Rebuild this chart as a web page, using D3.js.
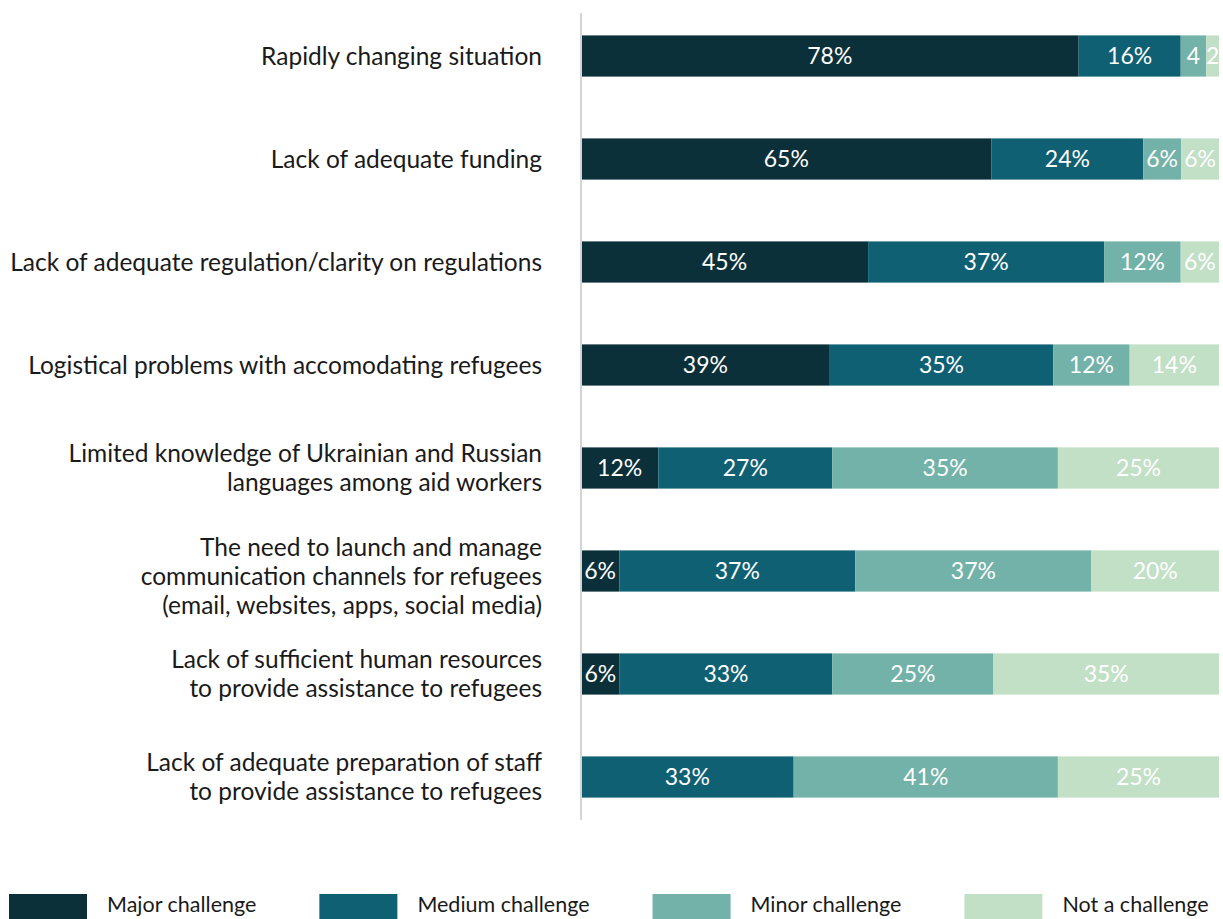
<!DOCTYPE html>
<html>
<head>
    <meta charset="utf-8">
    <script src="https://cdn.jsdelivr.net/npm/d3@7"></script>
    <style>
        * { margin: 0; padding: 0; }
        body { background: #fff; }
        svg { display: block; font-family: Lato, "Open Sans", sans-serif; }
    </style>
</head>
<body>
    <svg id="chart" width="1223" height="919"></svg>
    <script>
        // data
        var categories = [
            "Rapidly changing situation",
            "Lack of adequate funding",
            "Lack of adequate regulation/clarity on regulations",
            "Logistical problems with accomodating refugees",
            "Limited knowledge of Ukrainian and Russian|languages among aid workers",
            "The need to launch and manage|communication channels for refugees|(email, websites, apps, social media)",
            "Lack of sufficient human resources|to provide assistance to refugees",
            "Lack of adequate preparation of staff|to provide assistance to refugees"
        ];
        var seriesNames = ["Major challenge", "Medium challenge", "Minor challenge", "Not a challenge"];
        var major  = [78, 65, 45, 39, 12, 6, 6, 0];
        var medium = [16, 24, 37, 35, 27, 37, 33, 33];
        var minor  = [4, 6, 12, 12, 35, 37, 25, 41];
        var notA   = [2, 6, 6, 14, 25, 20, 35, 25];
        var colors = ["#0b303a", "#0f6073", "#72b2a8", "#c1e0c6"];

        var rows = categories.map(function (c, i) {
            return { cat: c, "Major challenge": major[i], "Medium challenge": medium[i],
                     "Minor challenge": minor[i], "Not a challenge": notA[i] };
        });

        var svg = d3.select("#chart");
        var x0 = 581, x1 = 1219;

        var x = d3.scaleLinear().domain([0, 1]).range([x0, x1]);
        var y = d3.scaleBand()
            .domain(categories)
            .range([4.5, 828.5])
            .paddingInner(0.6)
            .paddingOuter(0.3);
        var color = d3.scaleOrdinal().domain(seriesNames).range(colors);

        var stack = d3.stack().keys(seriesNames).offset(d3.stackOffsetExpand);
        var stacked = stack(rows);

        var groups = svg.selectAll("g.series")
            .data(stacked)
            .enter()
            .append("g")
            .attr("class", "series")
            .attr("fill", function (d) { return color(d.key); });

        groups.selectAll("rect")
            .data(function (d) { return d; })
            .enter()
            .append("rect")
            .attr("x", function (d) { return x(d[0]); })
            .attr("y", function (d) { return y(d.data.cat); })
            .attr("width", function (d) { return Math.max(0, x(d[1]) - x(d[0])); })
            .attr("height", y.bandwidth());

        // value labels
        groups.selectAll("text")
            .data(function (s) { return s.map(function (d) { return { d: d, key: s.key }; }); })
            .enter()
            .append("text")
            .attr("x", function (o) { return (x(o.d[0]) + x(o.d[1])) / 2; })
            .attr("y", function (o) { return y(o.d.data.cat) + y.bandwidth() / 2; })
            .attr("dy", "0.35em")
            .attr("text-anchor", "middle")
            .attr("fill", "#fff")
            .style("font-size", "23px")
            .text(function (o) {
                var v = o.d.data[o.key];
                if (v <= 0) return "";
                return v < 5 ? v : v + "%";
            });

        // axis line
        svg.append("line")
            .attr("x1", x0).attr("x2", x0)
            .attr("y1", 13).attr("y2", 820)
            .attr("stroke", "#d4d4d4")
            .attr("stroke-width", 2);

        // category labels
        var lineH = 29;
        svg.selectAll("text.cat")
            .data(categories)
            .enter()
            .append("text")
            .attr("class", "cat")
            .attr("text-anchor", "end")
            .attr("fill", "#1a1a1a")
            .style("font-size", "24.5px")
            .each(function (c) {
                var lines = c.split("|");
                var cy = y(c) + y.bandwidth() / 2;
                var start = cy - (lines.length - 1) * lineH / 2 + (lines.length > 2 ? 5 : 0);
                var t = d3.select(this);
                lines.forEach(function (l, i) {
                    t.append("tspan")
                        .attr("x", 542)
                        .attr("y", start + i * lineH)
                        .attr("dy", "0.35em")
                        .text(l);
                });
            });

        // legend, laid out one after the other
        var lx = 9;
        seriesNames.forEach(function (name) {
            var g = svg.append("g")
                .attr("class", "legend")
                .attr("transform", "translate(" + lx + ",894)");
            g.append("rect")
                .attr("width", 78)
                .attr("height", 25)
                .attr("fill", color(name));
            var t = g.append("text")
                .attr("x", 98)
                .attr("y", 18)
                .attr("fill", "#1a1a1a")
                .style("font-size", "21.5px")
                .text(name);
            lx += 98 + t.node().getComputedTextLength() + 63;
        });
    </script>
</body>
</html>
